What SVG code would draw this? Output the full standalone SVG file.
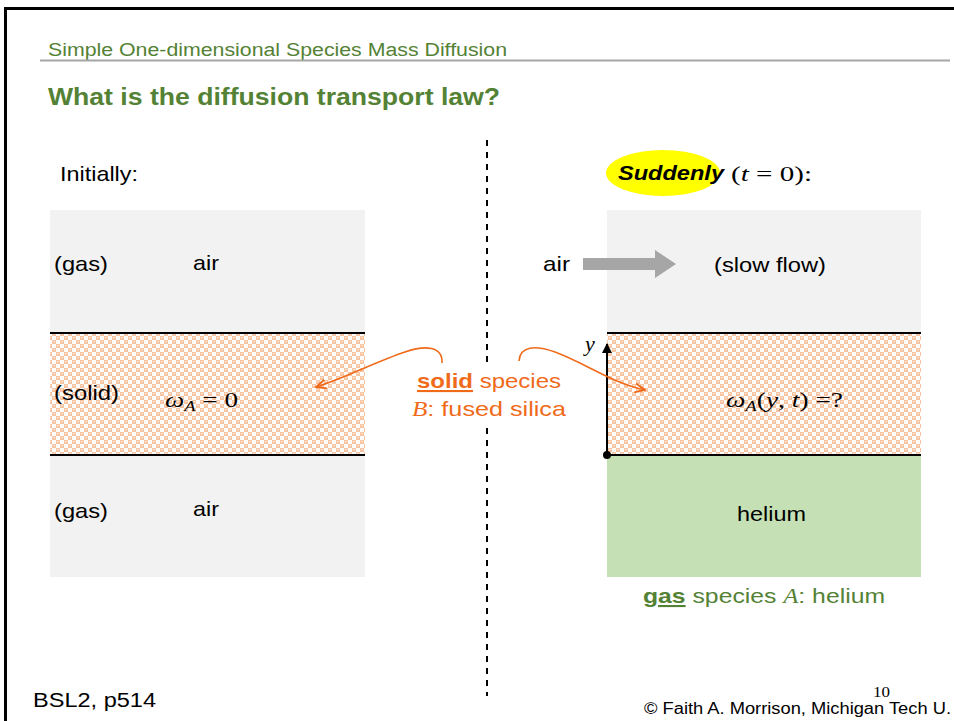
<svg xmlns="http://www.w3.org/2000/svg" width="954" height="721" viewBox="0 0 954 721">
  <style>
    .sans { font-family: "Liberation Sans", Arial, sans-serif; }
    .math { font-family: "Liberation Serif", "Times New Roman", serif; }
    .green { fill: #548235; }
    .orange { fill: #f06a1a; }
    .lbl { font-family: "Liberation Sans", Arial, sans-serif; font-size: 21px; fill: #000; }
    .band { stroke: #000; stroke-width: 2; }
  </style>
  <defs>
    <!-- speckled tile used for the solid layer -->
    <pattern id="solidFill" width="8" height="8" patternUnits="userSpaceOnUse">
      <rect width="8" height="8" fill="#f7c3a0"/>
      <rect x="4" y="0" width="4" height="4" fill="#ffffff"/>
      <rect x="0" y="4" width="4" height="4" fill="#ffffff"/>
      <rect x="1" y="1" width="2" height="1" fill="#fde6d6"/>
      <rect x="5" y="5" width="2" height="1" fill="#fde6d6"/>
    </pattern>
    <marker id="orangeHead" viewBox="0 0 10 10" refX="9" refY="5" markerWidth="7" markerHeight="7" orient="auto">
      <path d="M0,1 L9,5 L0,9" fill="none" stroke="#f06a1a" stroke-width="1.6"/>
    </marker>
    <marker id="blackHead" viewBox="0 0 10 10" refX="9" refY="5" markerWidth="5" markerHeight="5" orient="auto">
      <path d="M0,0 L10,5 L0,10 Z" fill="#000"/>
    </marker>
  </defs>

  <rect width="954" height="721" fill="#ffffff"/>

  <!-- slide frame -->
  <path d="M5.5,721 V8.5 H954" fill="none" stroke="#000" stroke-width="3"/>

  <!-- header -->
  <g id="header">
    <text x="48" y="56" class="sans green" font-size="18" textLength="459" lengthAdjust="spacingAndGlyphs">Simple One-dimensional Species Mass Diffusion</text>
    <line x1="40" y1="60.5" x2="950" y2="60.5" stroke="#a6a6a6" stroke-width="2"/>
    <text x="48" y="105" class="sans green" font-size="23" font-weight="bold" textLength="452" lengthAdjust="spacingAndGlyphs">What is the diffusion transport law?</text>
  </g>

  <!-- divider -->
  <line x1="487" y1="140" x2="487" y2="696" stroke="#000" stroke-width="2" stroke-dasharray="6,6"/>

  <!-- left: initial state -->
  <g id="initial">
    <text x="60" y="181" class="lbl" textLength="78" lengthAdjust="spacingAndGlyphs">Initially:</text>
    <rect x="50" y="210" width="315" height="123" fill="#f2f2f2"/>
    <rect x="50" y="333" width="315" height="122" fill="url(#solidFill)"/>
    <rect x="50" y="455" width="315" height="122" fill="#f2f2f2"/>
    <line x1="50" y1="333" x2="365" y2="333" class="band"/>
    <line x1="50" y1="455" x2="365" y2="455" class="band"/>
    <text x="54" y="271" class="lbl" textLength="54" lengthAdjust="spacingAndGlyphs">(gas)</text>
    <text x="193" y="270" class="lbl" textLength="26" lengthAdjust="spacingAndGlyphs">air</text>
    <text x="54" y="400" class="lbl" textLength="65" lengthAdjust="spacingAndGlyphs">(solid)</text>
    <text x="165" y="407" class="math" font-size="22" textLength="73" lengthAdjust="spacingAndGlyphs"><tspan font-style="italic">ω</tspan><tspan font-style="italic" font-size="15" dy="4">A</tspan><tspan dy="-4"> = 0</tspan></text>
    <text x="54" y="518" class="lbl" textLength="54" lengthAdjust="spacingAndGlyphs">(gas)</text>
    <text x="193" y="516" class="lbl" textLength="26" lengthAdjust="spacingAndGlyphs">air</text>
  </g>

  <!-- right: after the flow starts -->
  <g id="sudden">
    <ellipse cx="663" cy="173" rx="57" ry="23" fill="#ffff00"/>
    <text x="618" y="180" class="sans" font-size="21" font-weight="bold" font-style="italic" textLength="106" lengthAdjust="spacingAndGlyphs">Suddenly</text>
    <text x="731" y="181" class="math" font-size="22" textLength="81" lengthAdjust="spacingAndGlyphs">(<tspan font-style="italic">t</tspan> = 0):</text>
    <rect x="607" y="210" width="314" height="123" fill="#f2f2f2"/>
    <rect x="607" y="333" width="314" height="122" fill="url(#solidFill)"/>
    <rect x="607" y="455" width="314" height="122" fill="#c5e0b4"/>
    <line x1="607" y1="333" x2="921" y2="333" class="band"/>
    <line x1="607" y1="455" x2="921" y2="455" class="band"/>
    <text x="543" y="271" class="lbl" textLength="27" lengthAdjust="spacingAndGlyphs">air</text>
    <path d="M583,258 H655 V250 L676,264 L655,278 V270 H583 Z" fill="#a6a6a6"/>
    <text x="714" y="272" class="lbl" textLength="112" lengthAdjust="spacingAndGlyphs">(slow flow)</text>
    <text x="726" y="407" class="math" font-size="22" textLength="117" lengthAdjust="spacingAndGlyphs"><tspan font-style="italic">ω</tspan><tspan font-style="italic" font-size="15" dy="4">A</tspan><tspan dy="-4">(</tspan><tspan font-style="italic">y</tspan>, <tspan font-style="italic">t</tspan>) =?</text>
    <text x="737" y="521" class="lbl" textLength="69" lengthAdjust="spacingAndGlyphs">helium</text>
    <text x="643" y="603" class="sans green" font-size="21" textLength="242" lengthAdjust="spacingAndGlyphs"><tspan font-weight="bold" text-decoration="underline">gas</tspan> species <tspan class="math" font-style="italic">A</tspan>:  helium</text>
  </g>

  <!-- y axis -->
  <g id="axis">
    <line x1="607" y1="455" x2="607" y2="344" stroke="#000" stroke-width="2" marker-end="url(#blackHead)"/>
    <circle cx="607" cy="455" r="4" fill="#000"/>
    <text x="585" y="351" class="math" font-size="22" font-style="italic">y</text>
  </g>

  <!-- solid species label, on a white box that interrupts the divider -->
  <g id="solid-label">
    <rect x="410" y="363" width="160" height="62" fill="#ffffff"/>
    <text x="417" y="388" class="sans orange" font-size="21" textLength="144" lengthAdjust="spacingAndGlyphs"><tspan font-weight="bold" text-decoration="underline">solid</tspan> species</text>
    <text x="412" y="416" class="sans orange" font-size="21" textLength="154" lengthAdjust="spacingAndGlyphs"><tspan class="math" font-style="italic">B</tspan>:  fused silica</text>
  </g>

  <!-- connectors -->
  <g id="connectors" fill="none" stroke="#f06a1a" stroke-width="1.6">
    <path d="M442,363 C443,346 425,345 405,352 C375,362 345,378 316,387" marker-end="url(#orangeHead)"/>
    <path d="M519,361 C520,346 535,345 555,352 C585,363 612,383 645,390" marker-end="url(#orangeHead)"/>
  </g>

  <!-- footer -->
  <g id="footer">
    <text x="33" y="707" class="sans" font-size="20" textLength="123" lengthAdjust="spacingAndGlyphs">BSL2, p514</text>
    <text x="644" y="714" class="sans" font-size="16" textLength="307" lengthAdjust="spacingAndGlyphs">© Faith A. Morrison, Michigan Tech U.</text>
    <text x="873" y="697" class="math" font-size="15" textLength="17" lengthAdjust="spacingAndGlyphs">10</text>
  </g>
</svg>
